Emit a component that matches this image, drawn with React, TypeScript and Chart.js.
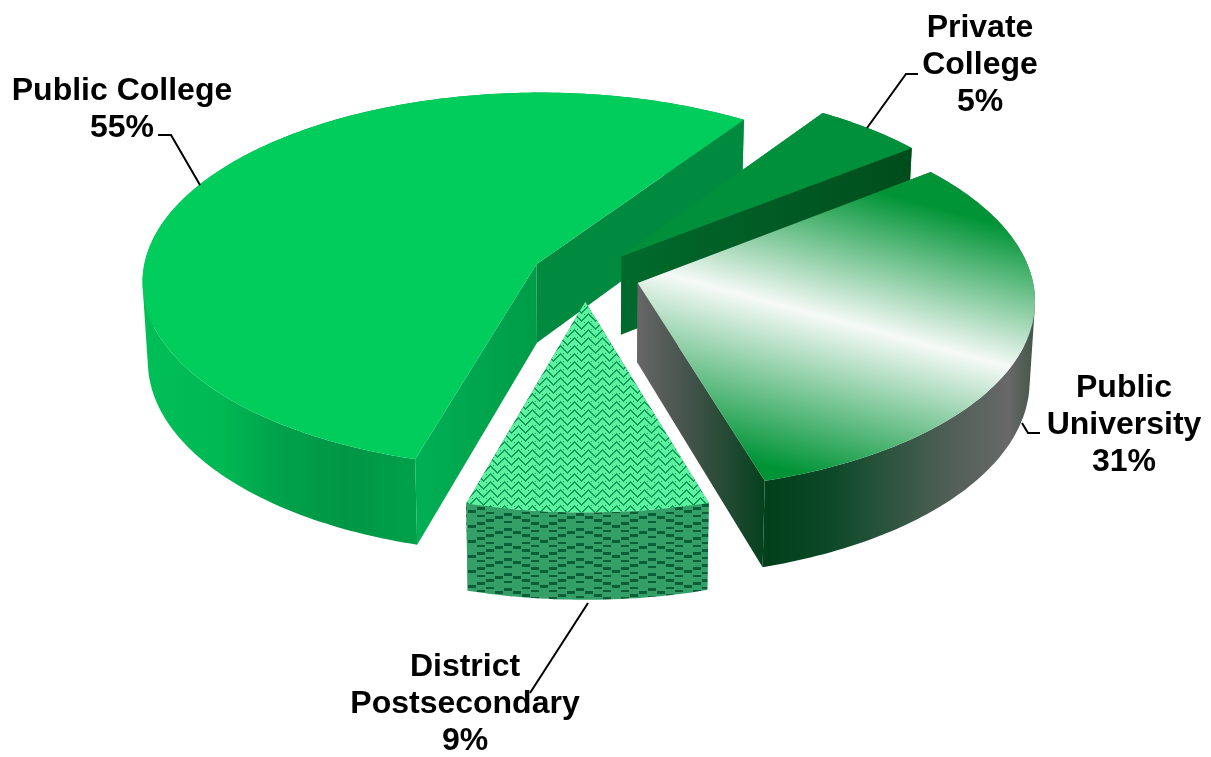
import React, { useEffect, useRef } from "react";
import { Chart, registerables } from "chart.js";

Chart.register(...registerables);

// Share of enrolment by sector
const categories = ["Public College", "Private College", "Public University", "District Postsecondary"];
const shares = [55, 5, 31, 9];
const explode = [41, 41, 42, 42];
const labelLines = [
  ["Public College", "55%"],
  ["Private", "College", "5%"],
  ["Public", "University", "31%"],
  ["District", "Postsecondary", "9%"],
];

// Where each label block is centred and the first line's middle
const labelAnchors = [
  [122, 91],
  [980, 28],
  [1124, 388],
  [465, 667],
];
const leaders = [
  [[158, 135], [171, 135], [200, 185]],
  [[918, 74], [906, 74], [867, 128]],
  [[1040, 433], [1028, 433], [1022, 423]],
  [[588, 603], [530, 693]],
];

// Tilted-disc projection applied to the pie's plane
const VIEW = { cx: 585, cy: 275, a: 394, k: 188, p: 0.085, depth: 79, shrink: 0.988 };

type Stops = [number, string][];
type Pt = { x: number; y: number };

const toTop = (nx: number, ny: number): Pt => {
  const w = 1 - VIEW.p * ny;
  return { x: VIEW.cx + (VIEW.a * nx) / w, y: VIEW.cy + (VIEW.k * ny) / w };
};
const toBottom = (nx: number, ny: number): Pt => {
  const w = 1 - VIEW.p * ny;
  const t = toTop(nx, ny);
  return { x: VIEW.cx + (t.x - VIEW.cx) * VIEW.shrink, y: t.y + VIEW.depth / w };
};

function hGradient(ctx: CanvasRenderingContext2D, x0: number, x1: number, stops: Stops) {
  const g = ctx.createLinearGradient(x0, 0, x1, 0);
  stops.forEach(([o, c]) => g.addColorStop(o, c));
  return g;
}

function makeTile(w: number, h: number, paint: (x: number, y: number) => boolean, light: string, dark: string) {
  const c = document.createElement("canvas");
  c.width = w;
  c.height = h;
  const t = c.getContext("2d")!;
  t.fillStyle = light;
  t.fillRect(0, 0, w, h);
  t.fillStyle = dark;
  for (let y = 0; y < h; y++) for (let x = 0; x < w; x++) if (paint(x, y)) t.fillRect(x, y, 1, 1);
  return c;
}

// Fine woven chevrons for the upper face of the district slice
const weaveFine = (x: number, y: number) => {
  const tri = Math.abs((x % 14) - 7);
  const v = (y + tri) % 8;
  return v < 2 || (v === 5 && x % 7 === 3);
};
// Coarse stepped chevrons for its outer wall
const weaveCoarse = (x: number, y: number) => {
  const cell = Math.floor(x / 9);
  const tri = Math.abs((cell % 8) - 4);
  const v = (y + tri * 3) % 15;
  if (x % 9 === 8) return false;
  return v < 3 || (v >= 8 && v < 10 && cell % 3 !== 1);
};

function tracePolygon(ctx: CanvasRenderingContext2D, pts: Pt[]) {
  pts.forEach((p, i) => (i ? ctx.lineTo(p.x, p.y) : ctx.moveTo(p.x, p.y)));
  ctx.closePath();
}

function polygon(ctx: CanvasRenderingContext2D, pts: Pt[], fill: string | CanvasGradient | CanvasPattern) {
  ctx.beginPath();
  tracePolygon(ctx, pts);
  ctx.fillStyle = fill;
  ctx.fill();
}

// All rim quads share one path, wound the same way, so no seams show between them
function rimBand(ctx: CanvasRenderingContext2D, top: Pt[], bottom: Pt[], fill: string | CanvasGradient | CanvasPattern) {
  ctx.beginPath();
  for (let s = 0; s + 1 < top.length; s++) {
    const quad = [top[s], top[s + 1], bottom[s + 1], bottom[s]];
    let area = 0;
    quad.forEach((p, j) => {
      const q = quad[(j + 1) % 4];
      area += p.x * q.y - q.x * p.y;
    });
    tracePolygon(ctx, area >= 0 ? quad : [...quad].reverse());
  }
  ctx.fillStyle = fill;
  ctx.fill("nonzero");
}

function sliceStyles(ctx: CanvasRenderingContext2D) {
  const band = { x: 680, y: 278 };
  const n = { x: -0.261, y: 0.965 };
  const up = 135;
  const down = 158;
  const sheen = ctx.createLinearGradient(band.x - n.x * up, band.y - n.y * up, band.x + n.x * down, band.y + n.y * down);
  sheen.addColorStop(0, "#009436");
  sheen.addColorStop(up / (up + down), "#f6faf7");
  sheen.addColorStop(1, "#009436");

  const universityWall = hGradient(ctx, 638, 1037, [
    [0, "#666666"],
    [0.12, "#46544c"],
    [0.33, "#00401a"],
    [0.5, "#0f4a2a"],
    [0.78, "#505f57"],
    [0.93, "#686868"],
    [1, "#3e5448"],
  ]);
  const fineTop = ctx.createPattern(makeTile(14, 8, weaveFine, "#5df2a0", "#0f9a58"), "repeat")!;
  const coarseWall = ctx.createPattern(makeTile(72, 15, weaveCoarse, "#34a067", "#0b5f36"), "repeat")!;

  return [
    {
      top: "#00cd5c",
      rim: hGradient(ctx, 142, 412, [
        [0, "#00bf57"],
        [0.3, "#00b854"],
        [0.5, "#00a24a"],
        [0.75, "#009645"],
        [1, "#00a04a"],
      ]),
      startCut: hGradient(ctx, 412, 537, [
        [0, "#00b054"],
        [1, "#009c48"],
      ]),
      endCut: "#008a40",
    },
    {
      top: "#008f3a",
      rim: "#008f3a",
      startCut: "#008f3a",
      endCut: hGradient(ctx, 623, 908, [
        [0, "#006a2c"],
        [1, "#004d1c"],
      ]),
    },
    { top: sheen, rim: universityWall, startCut: universityWall, endCut: universityWall },
    { top: fineTop, rim: coarseWall, startCut: coarseWall, endCut: coarseWall },
  ];
}

const discPlugin = {
  id: "tiltedDisc",
  beforeDatasetsDraw(chart: Chart) {
    const ctx = chart.ctx;
    const styles = sliceStyles(ctx);
    const arcs = chart.getDatasetMeta(0).data as any[];

    arcs.forEach((arc, i) => {
      const { startAngle, endAngle, outerRadius, options } = arc;
      const mid = (startAngle + endAngle) / 2;
      const off = options.offset / outerRadius;
      const ox = Math.cos(mid) * off;
      const oy = Math.sin(mid) * off;
      const steps = Math.ceil(((endAngle - startAngle) * 180) / Math.PI);
      const rimTop: Pt[] = [];
      const rimBottom: Pt[] = [];
      for (let s = 0; s <= steps; s++) {
        const a = startAngle + ((endAngle - startAngle) * s) / steps;
        const nx = ox + Math.cos(a);
        const ny = oy + Math.sin(a);
        rimTop.push(toTop(nx, ny));
        rimBottom.push(toBottom(nx, ny));
      }
      const apexTop = toTop(ox, oy);
      const apexBottom = toBottom(ox, oy);
      const st = styles[i];

      rimBand(ctx, rimTop, rimBottom, st.rim);
      polygon(ctx, [apexTop, rimTop[0], rimBottom[0], apexBottom], st.startCut);
      polygon(ctx, [apexTop, rimTop[steps], rimBottom[steps], apexBottom], st.endCut);
      polygon(ctx, [apexTop, ...rimTop], st.top);
    });

    // Leader lines go under the text
    ctx.strokeStyle = "#000000";
    ctx.lineWidth = 2;
    ctx.lineJoin = "miter";
    leaders.forEach((line) => {
      ctx.beginPath();
      line.forEach(([x, y], j) => (j ? ctx.lineTo(x, y) : ctx.moveTo(x, y)));
      ctx.stroke();
    });

    ctx.fillStyle = "#000000";
    ctx.font = 'bold 32px "Liberation Sans", Arial, sans-serif';
    ctx.textAlign = "center";
    ctx.textBaseline = "middle";
    labelLines.forEach((lines, i) => {
      const [x, y] = labelAnchors[i];
      lines.forEach((text, j) => ctx.fillText(text, x, y + j * 37));
    });
    return false;
  },
};

export default function App() {
  const canvasRef = useRef<HTMLCanvasElement>(null);

  useEffect(() => {
    const chart = new Chart(canvasRef.current!, {
      type: "pie",
      data: {
        labels: categories,
        datasets: [{ data: shares, offset: explode, borderWidth: 0 }],
      },
      options: {
        animation: false,
        responsive: false,
        rotation: 195.9,
        radius: 300,
        layout: { padding: 0 },
        plugins: { legend: { display: false }, tooltip: { enabled: false } },
      },
      plugins: [discPlugin],
    });
    return () => chart.destroy();
  }, []);

  return (
    <div style={{ position: "absolute", left: 0, top: 0, width: 1211, height: 757, background: "#ffffff" }}>
      <canvas ref={canvasRef} width={1211} height={757} style={{ display: "block" }} />
    </div>
  );
}
